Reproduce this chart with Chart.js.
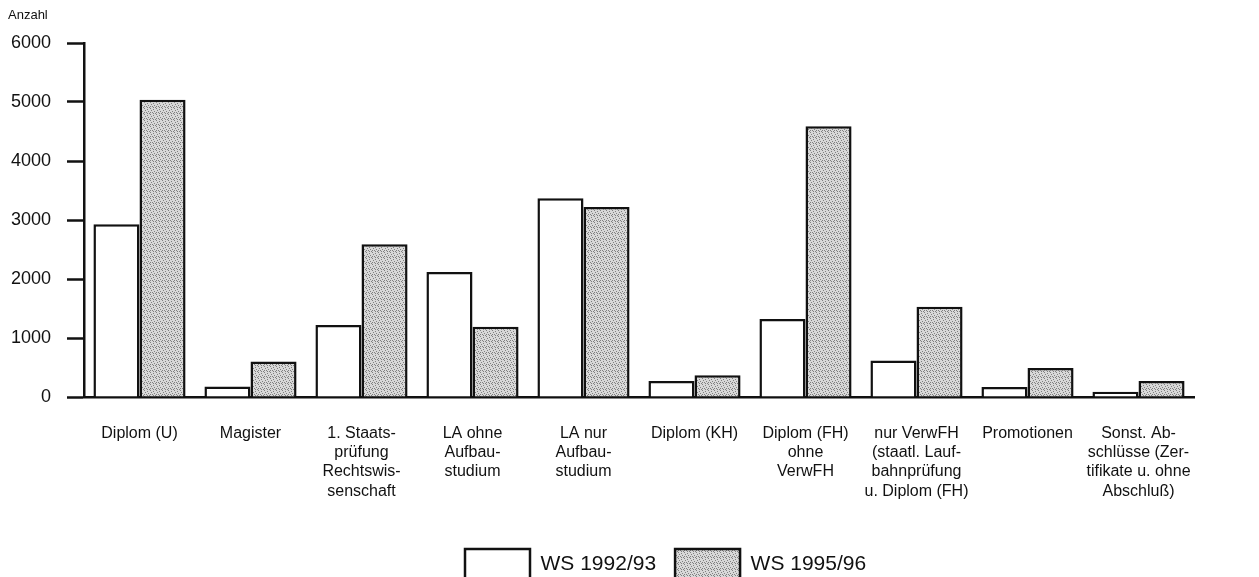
<!DOCTYPE html>
<html>
<head>
<meta charset="utf-8">
<script src="https://cdn.jsdelivr.net/npm/chart.js@4.4.0/dist/chart.umd.min.js"></script>
<style>
  html, body { margin: 0; padding: 0; background: #fff; }
  #wrap { width: 1259px; height: 577px; }
</style>
</head>
<body>
<div id="wrap"><canvas id="chart"></canvas></div>
<script>
// ── Data ──────────────────────────────────────────────────────────────────
const categories = [
  ['Diplom (U)'],
  ['Magister'],
  ['1. Staats-', 'prüfung', 'Rechtswis-', 'senschaft'],
  ['LA ohne', 'Aufbau-', 'studium'],
  ['LA nur', 'Aufbau-', 'studium'],
  ['Diplom (KH)'],
  ['Diplom (FH)', 'ohne', 'VerwFH'],
  ['nur VerwFH', '(staatl. Lauf-', 'bahnprüfung', 'u. Diplom (FH)'],
  ['Promotionen'],
  ['Sonst. Ab-', 'schlüsse (Zer-', 'tifikate u. ohne', 'Abschluß)'],
];
const ws9293 = [2930, 180, 1220, 2120, 3370, 270, 1320, 620, 170, 90];
const ws9596 = [5040, 600, 2590, 1190, 3220, 370, 4590, 1530, 490, 270];
const yTicks = [0, 1000, 2000, 3000, 4000, 5000, 6000];

const FONT = '"Liberation Sans", Arial, Helvetica, sans-serif';
Chart.defaults.font.family = FONT;
Chart.defaults.color = '#111';

// stippled grey like the printed raster
function makeStipple() {
  const c = document.createElement('canvas');
  c.width = 6; c.height = 6;
  const g = c.getContext('2d');
  g.fillStyle = '#d8d8d8';
  g.fillRect(0, 0, 6, 6);
  g.fillStyle = '#808080';
  [[0,0],[3,1],[1,2],[4,3],[2,4],[5,5],[0,4],[3,5]].forEach(([x, y]) => g.fillRect(x, y, 1, 1));
  return g.createPattern(c, 'repeat');
}
const stipple = makeStipple();

// ── Plugins ───────────────────────────────────────────────────────────────
const anzahlLabel = {
  id: 'anzahlLabel',
  afterDraw(chart) {
    const ctx = chart.ctx;
    ctx.save();
    ctx.font = '13px ' + FONT;
    ctx.fillStyle = '#111';
    ctx.textBaseline = 'middle';
    ctx.fillText('Anzahl', 8, 15);
    ctx.restore();
  },
};

// legend sits right of centre in the original
const legendShift = {
  id: 'legendShift',
  afterLayout(chart) {
    const lg = chart.legend;
    if (!lg || !lg.lineWidths) return;
    const pad = lg.options.labels.padding;
    lg.left = 2 * 465 - pad - lg.right + lg.lineWidths[0];
    lg.top = 549 - pad;
  },
};

new Chart(document.getElementById('chart'), {
  type: 'bar',
  data: {
    labels: categories,
    datasets: [
      {
        label: 'WS 1992/93',
        data: ws9293,
        backgroundColor: '#fff',
        borderColor: '#111',
        borderWidth: 2.5,
      },
      {
        label: 'WS 1995/96',
        data: ws9596,
        backgroundColor: stipple,
        borderColor: '#111',
        borderWidth: 2.5,
      },
    ],
  },
  options: {
    responsive: true,
    maintainAspectRatio: false,
    animation: false,
    categoryPercentage: 0.83,
    barPercentage: 1.0,
    layout: { padding: { top: 43, right: 65, left: 0, bottom: 0 } },
    plugins: {
      tooltip: { enabled: false },
      legend: {
        position: 'bottom',
        labels: {
          boxWidth: 65,
          boxHeight: 30,
          padding: 19,
          color: '#111',
          font: { size: 21 },
        },
      },
    },
    scales: {
      x: {
        grid: { display: true, drawOnChartArea: false, drawTicks: false },
        border: { display: true, color: '#111', width: 2.5 },
        ticks: {
          color: '#111',
          font: { size: 16, lineHeight: 1.2 },
          padding: 27,
          maxRotation: 0,
          autoSkip: false,
        },
        afterFit: s => { s.height = 577 - 397 - (s.chart.legend ? s.chart.legend.height : 0); },
      },
      y: {
        min: 0,
        max: 6000,
        afterBuildTicks: s => { s.ticks = yTicks.map(v => ({ value: v })); },
        grid: {
          drawOnChartArea: false,
          drawTicks: true,
          tickLength: 17,
          tickColor: '#111',
          tickWidth: 2.5,
        },
        border: { display: true, color: '#111', width: 2.5 },
        ticks: { color: '#111', font: { size: 18 }, padding: 16, callback: v => String(v) },
        afterFit: s => { s.width = 84; },
      },
    },
  },
  plugins: [anzahlLabel, legendShift],
});
</script>
</body>
</html>
